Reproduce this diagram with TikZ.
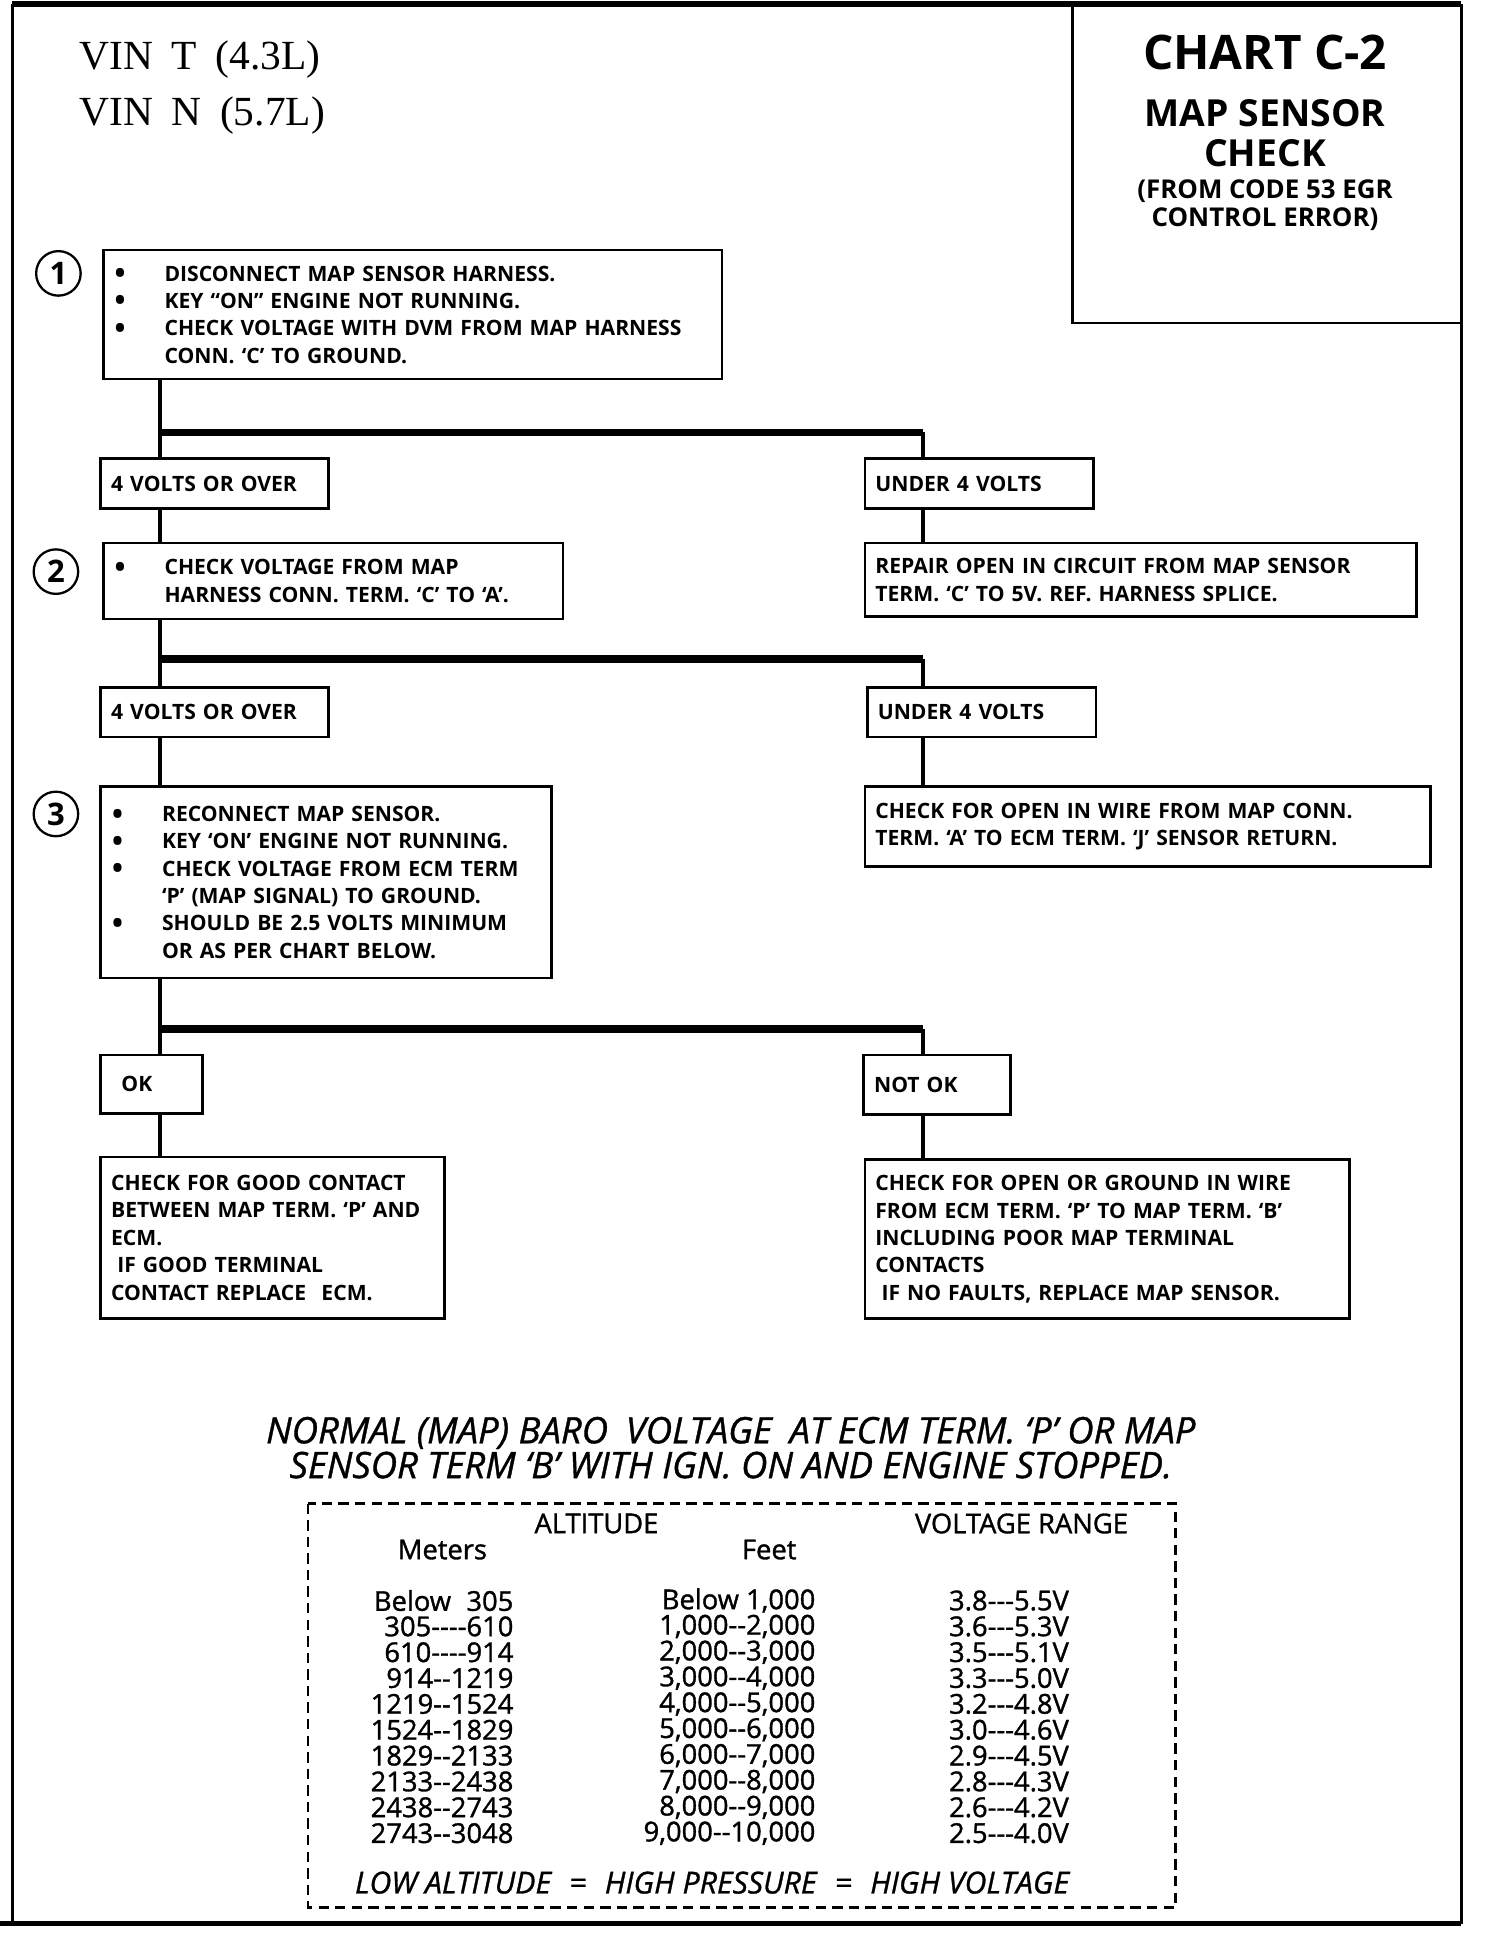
\documentclass[tikz,border=0pt]{standalone}
\usepackage{fontspec}
\setmainfont{Liberation Serif}
\newfontfamily\chartfont{Open Sans}
\newfontfamily\tablefont{Open Sans}[Ligatures=TeXOff, FakeBold=1.2]
\newfontfamily\titlefont{Open Sans}[FakeBold=1]

\usetikzlibrary{positioning}

\newcommand{\bul}{\makebox[24.6pt][l]{\hspace{0.5pt}\smash{\raisebox{-1.2pt}{\fontsize{14}{14}\selectfont\textbullet}}}}
\newcommand{\ind}{\hspace{24.6pt}}

\tikzset{
  box/.style={draw, line width=1.3pt, anchor=north west, inner xsep=5pt, inner ysep=0pt,
    align=left, font=\chartfont\bfseries\fontsize{10.2}{13.2}\selectfont},
  conn/.style={line width=2pt},
  bar/.style={line width=3.8pt},
  num/.style={draw, circle, line width=1.1pt, minimum size=21.5pt, inner sep=0pt,
    font=\chartfont\bfseries\fontsize{15}{15}\selectfont},
  head/.style={font=\chartfont\bfseries, anchor=base},
  tabtext/.style={font=\tablefont\fontsize{13.2}{14}\selectfont},
}

\begin{document}
\begin{tikzpicture}[x=0.6pt,y=-0.6pt]
    \useasboundingbox (0,0) rectangle (1210,1566);

    % page frame
    \draw [line width=1.2pt] (10,3) -- (10,1548);
    \draw [line width=3pt] (10,3) -- (1176,3);
    \draw [line width=1.5pt] (1176,3) -- (1176,1548);
    \draw [line width=2.5pt] (0,1548) -- (1176,1548);
    \draw [line width=1.2pt] (863,3) -- (863,260) -- (1176,260);

    \node [anchor=base west, font=\fontsize{20}{24}\selectfont] (vinT) at (58,56) {VIN\hspace{9pt}T\hspace{9pt}(4.3L)};
    \node [anchor=base west, font=\fontsize{20}{24}\selectfont] (vinN) at (58,101) {VIN\hspace{9pt}N\hspace{9pt}(5.7L)};

    \node [head, font=\chartfont\bfseries\fontsize{23}{24}\selectfont] (chart) at (1018,56) {CHART C-2};
    \node [head, font=\chartfont\bfseries\fontsize{18}{20}\selectfont] (title1) at (1018,102) {MAP SENSOR};
    \node [head, font=\chartfont\bfseries\fontsize{18}{20}\selectfont] (title2) at (1018,134) {CHECK};
    \node [head, font=\chartfont\bfseries\fontsize{12.5}{14}\selectfont] (from1) at (1018,160) {(FROM CODE 53 EGR};
    \node [head, font=\chartfont\bfseries\fontsize{12.5}{14}\selectfont] (from2) at (1018,182) {CONTROL ERROR)};

    % step boxes
    \node [num] (c1) at (47,220) {1};
    \node [box, text width=288.8pt, minimum height=62.4pt] (b1) at (82,200)
      {\bul DISCONNECT MAP SENSOR HARNESS.\\
       \bul KEY “ON” ENGINE NOT RUNNING.\\
       \bul CHECK VOLTAGE WITH DVM FROM MAP HARNESS\\
       \ind CONN. ‘C’ TO GROUND.};

    \node [box, text width=99.8pt, minimum height=24pt] (y1) at (80,368) {4 VOLTS OR OVER};
    \node [box, text width=100.4pt, minimum height=24pt] (n1) at (695,368) {UNDER 4 VOLTS};

    \node [num] (c2) at (45,460) {2};
    \node [box, text width=212pt, minimum height=36.6pt] (b2) at (82,436)
      {\bul CHECK VOLTAGE FROM MAP\\
       \ind HARNESS CONN. TERM. ‘C’ TO ‘A’.};
    \node [box, text width=256.4pt, minimum height=35.4pt] (r1) at (695,436)
      {REPAIR OPEN IN CIRCUIT FROM MAP SENSOR\\
       TERM. ‘C’ TO 5V. REF. HARNESS SPLICE.};

    \node [box, text width=99.8pt, minimum height=24pt] (y2) at (80,552) {4 VOLTS OR OVER};
    \node [box, text width=100.4pt, minimum height=24pt] (n2) at (697,552) {UNDER 4 VOLTS};

    \node [num] (c3) at (45,655) {3};
    \node [box, text width=207.8pt, minimum height=92.4pt] (b3) at (80,632)
      {\bul RECONNECT MAP SENSOR.\\
       \bul KEY ‘ON’ ENGINE NOT RUNNING.\\
       \bul CHECK VOLTAGE FROM ECM TERM\\
       \ind ‘P’ (MAP SIGNAL) TO GROUND.\\
       \bul SHOULD BE 2.5 VOLTS MINIMUM\\
       \ind OR AS PER CHART BELOW.};
    \node [box, text width=263pt, minimum height=38.4pt] (r2) at (695,632)
      {CHECK FOR OPEN IN WIRE FROM MAP CONN.\\
       TERM. ‘A’ TO ECM TERM. ‘J’ SENSOR RETURN.};

    \node [box, text width=39.2pt, minimum height=28.2pt] (ok) at (80,848) {\hspace{5pt}OK};
    \node [box, text width=60.8pt, minimum height=28.8pt] (nok) at (694,848) {NOT OK};

    \node [box, text width=156pt, minimum height=78pt] (g1) at (80,930)
      {CHECK FOR GOOD CONTACT\\
       BETWEEN MAP TERM. ‘P’ AND\\
       ECM.\\
       \hspace{3pt}IF GOOD TERMINAL\\
       CONTACT REPLACE\hspace{4pt} ECM.};
    \node [box, text width=224pt, minimum height=76.8pt] (g2) at (695,932)
      {CHECK FOR OPEN OR GROUND IN WIRE\\
       FROM ECM TERM. ‘P’ TO MAP TERM. ‘B’\\
       INCLUDING POOR MAP TERMINAL\\
       CONTACTS\\
       \hspace{3pt}IF NO FAULTS, REPLACE MAP SENSOR.};

    % connectors
    \coordinate (tL) at (129,0);
    \coordinate (tR) at (743,0);
    \coordinate (j1) at (129,348);
    \coordinate (j2) at (129,530);
    \coordinate (j3) at (129,828);

    \draw [conn] (b1.south -| tL) -- (y1.north -| tL);
    \draw [bar] (j1) -- (j1 -| tR);
    \draw [conn] (j1 -| tR) -- (n1.north -| tR);
    \draw [conn] (y1.south -| tL) -- (b2.north -| tL);
    \draw [conn] (n1.south -| tR) -- (r1.north -| tR);

    \draw [conn] (b2.south -| tL) -- (y2.north -| tL);
    \draw [bar] (j2) -- (j2 -| tR);
    \draw [conn] (j2 -| tR) -- (n2.north -| tR);
    \draw [conn] (y2.south -| tL) -- (b3.north -| tL);
    \draw [conn] (n2.south -| tR) -- (r2.north -| tR);

    \draw [conn] (b3.south -| tL) -- (ok.north -| tL);
    \draw [bar] (j3) -- (j3 -| tR);
    \draw [conn] (j3 -| tR) -- (nok.north -| tR);
    \draw [conn] (ok.south -| tL) -- (g1.north -| tL);
    \draw [conn] (nok.south -| tR) -- (g2.north -| tR);

    % baro table
    \node [align=center, font=\titlefont\itshape\fontsize{17.6}{16.8}\selectfont] (baro) at (588,1165)
      {NORMAL (MAP) BARO\hspace{4pt} VOLTAGE\hspace{4pt} AT ECM TERM. ‘P’ OR MAP\\
       SENSOR TERM ‘B’ WITH IGN. ON AND ENGINE STOPPED.};
    \draw [line width=1.2pt, dash pattern=on 5pt off 3pt] (248,1210) rectangle (946,1535);

    \node [tabtext] (alt) at (480,1226) {ALTITUDE};
    \node [tabtext] (vr) at (822,1226) {VOLTAGE RANGE};
    \node [tabtext] (met) at (356,1247) {Meters};
    \node [tabtext] (ft) at (619,1247) {Feet};

    \foreach \m/\f/\v [count=\i from 0] in {{Below\hspace{4pt} 305}/{Below 1,000}/{3.8---5.5V},
        {305----610}/{1,000--2,000}/{3.6---5.3V},
        {610----914}/{2,000--3,000}/{3.5---5.1V},
        {914--1219}/{3,000--4,000}/{3.3---5.0V},
        {1219--1524}/{4,000--5,000}/{3.2---4.8V},
        {1524--1829}/{5,000--6,000}/{3.0---4.6V},
        {1829--2133}/{6,000--7,000}/{2.9---4.5V},
        {2133--2438}/{7,000--8,000}/{2.8---4.3V},
        {2438--2743}/{8,000--9,000}/{2.6---4.2V},
        {2743--3048}/{9,000--10,000}/{2.5---4.0V}} {
      \node [tabtext, anchor=east] (m\i) at (419,1288+20.8*\i) {\m};
      \node [tabtext, anchor=east] (f\i) at (662,1288+20.8*\i) {\f};
      \node [tabtext, anchor=east] (v\i) at (866,1288+20.8*\i) {\v};
    }

    \node [font=\titlefont\itshape\fontsize{14.6}{16}\selectfont] (rule) at (573,1515)
      {LOW ALTITUDE\hspace{5pt} =\hspace{5pt} HIGH PRESSURE\hspace{5pt} =\hspace{5pt} HIGH VOLTAGE};

\end{tikzpicture}
\end{document}
